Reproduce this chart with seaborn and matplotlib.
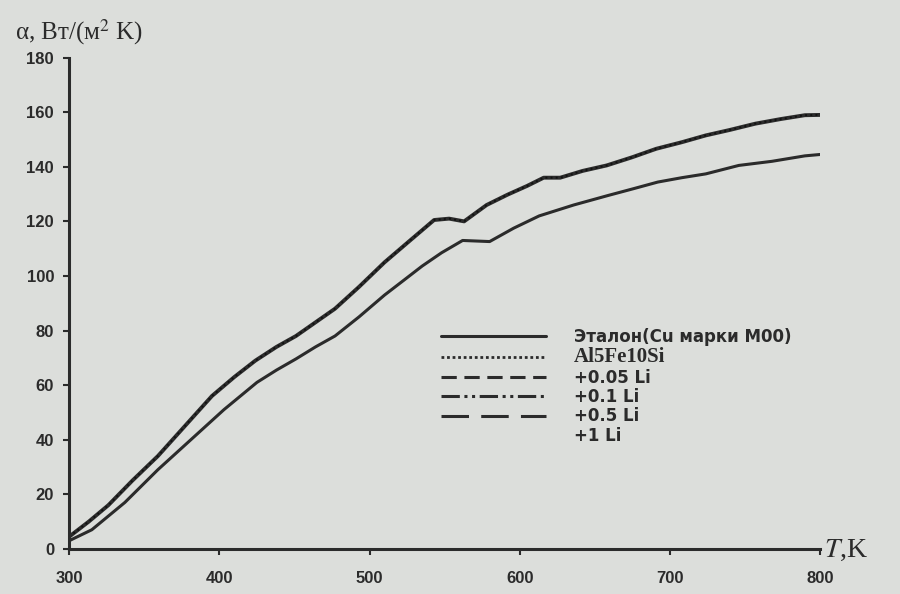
import matplotlib
matplotlib.use("Agg")
import matplotlib.pyplot as plt
from matplotlib.lines import Line2D
import seaborn as sns
import pandas as pd

# Values
t_alloy = [300, 313, 326, 342, 359, 377, 395, 410, 424, 438, 451, 464, 477, 493, 510,
           527, 543, 553, 563, 578, 592, 605, 616, 627, 642, 658, 675, 691, 708,
           724, 740, 757, 774, 790, 800]
alpha_alloy = [4.5, 10, 16, 25, 34, 45, 56, 63, 69, 74, 78, 83, 88, 96, 105,
               113, 120.5, 121, 120, 126, 129.8, 133, 136, 136, 138.5, 140.5, 143.5, 146.6, 149,
               151.5, 153.5, 155.8, 157.5, 158.9, 159]

t_etalon = [300, 315, 337, 359, 381, 403, 425, 438, 451, 464, 477, 493, 510, 523,
            535, 548, 562, 571, 580, 596, 613, 636, 659, 676, 692, 708, 724, 746,
            768, 790, 800]
alpha_etalon = [3, 7, 17, 29, 40, 51, 61, 65.5, 69.6, 74, 78, 85, 93, 98.5,
                103.6, 108.5, 113, 112.8, 112.6, 117.5, 122, 126, 129.5, 132, 134.4, 136, 137.4, 140.5,
                142, 144, 144.5]

legend_labels = ["Эталон(Cu марки М00)", "Al5Fe10Si", "+0.05 Li", "+0.1 Li", "+0.5 Li", "+1 Li"]
x_ticks = [300, 400, 500, 600, 700, 800]
y_ticks = [0, 20, 40, 60, 80, 100, 120, 140, 160, 180]

sns.set_style("ticks")
plt.rcParams["font.family"] = ["DejaVu Sans"]
plt.rcParams["mathtext.fontset"] = "stix"

paper = "#dcdedb"
ink = "#2b2b2b"
serif = ["Liberation Serif", "DejaVu Serif"]

fig = plt.figure(figsize=(9, 5.94), dpi=100, facecolor=paper)
ax = fig.add_axes([0.077, 0.076, 0.834, 0.827])
ax.set_facecolor(paper)

alloy = pd.DataFrame({"T": t_alloy, "alpha": alpha_alloy})
etalon = pd.DataFrame({"T": t_etalon, "alpha": alpha_etalon})

sns.lineplot(data=alloy, x="T", y="alpha", ax=ax, color=ink, linewidth=2.8)
sns.lineplot(data=alloy, x="T", y="alpha", ax=ax, color="#111111", linewidth=1.4, linestyle=":")
sns.lineplot(data=etalon, x="T", y="alpha", ax=ax, color=ink, linewidth=2.2)

ax.set_xlim(300, 800)
ax.set_ylim(0, 180)
ax.set_xticks(x_ticks)
ax.set_yticks(y_ticks)
ax.set_xlabel("")
ax.set_ylabel("")
for s in ["top", "right"]:
    ax.spines[s].set_visible(False)
for s in ["left", "bottom"]:
    ax.spines[s].set_linewidth(2.2)
    ax.spines[s].set_color(ink)
ax.tick_params(axis="both", colors=ink, width=1.5, length=4)
ax.tick_params(axis="x", pad=12)
ax.tick_params(axis="y", pad=7)
for lab in ax.get_xticklabels() + ax.get_yticklabels():
    lab.set_family(["Liberation Sans", "DejaVu Sans"])
    lab.set_fontweight("bold")
    lab.set_fontsize(12)
    lab.set_color(ink)

# Legend with sample line styles
handles = [
    Line2D([], [], color=ink, linewidth=2.2, linestyle="-"),
    Line2D([], [], color=ink, linewidth=2.0, linestyle=(0, (1, 1))),
    Line2D([], [], color=ink, linewidth=2.2, linestyle=(0, (5, 2.5))),
    Line2D([], [], color=ink, linewidth=2.2, linestyle=(0, (6, 1.5, 1, 1.5, 1, 1.5))),
    Line2D([], [], color=ink, linewidth=2.2, linestyle=(0, (9, 4))),
    Line2D([], [], color="none", linewidth=0),
]
leg = ax.legend(handles, legend_labels, loc="upper left", bbox_to_anchor=(0.475, 0.48),
                frameon=False, handlelength=6.3, handletextpad=1.7, labelspacing=0.08,
                fontsize=12)
for i, txt in enumerate(leg.get_texts()):
    txt.set_color(ink)
    txt.set_fontweight("bold")
    if i == 1:
        txt.set_family(serif)
        txt.set_fontsize(15)

fig.text(0.017, 0.934, r"α, Вт/(м$^2$ K)", fontsize=18, color=ink, family=serif)
fig.text(0.916, 0.062, r"$T$,K", fontsize=20, color=ink, family=serif, va="baseline")

fig.savefig("out.png", dpi=100, facecolor=paper)
